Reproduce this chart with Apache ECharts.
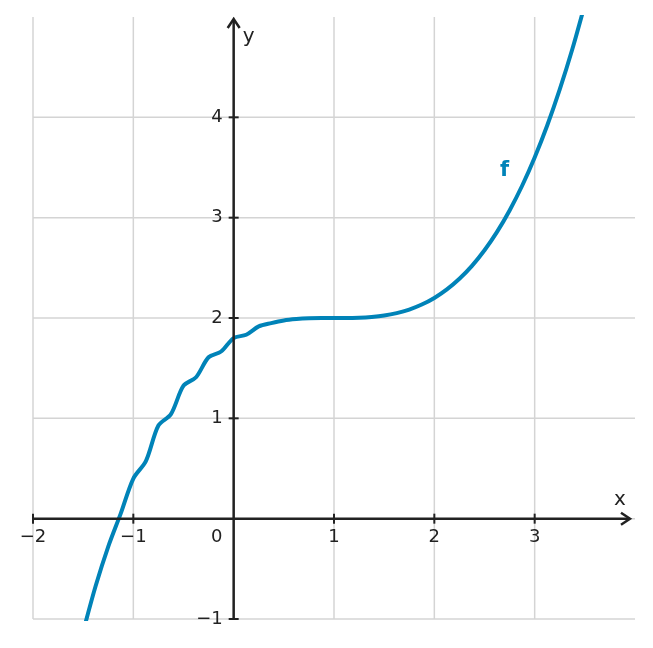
<!DOCTYPE html>
<html><head><meta charset="utf-8">
<script src="https://cdn.jsdelivr.net/npm/echarts@6/dist/echarts.min.js"></script>
<style>html,body{margin:0;padding:0;background:#fff}#c{width:653px;height:648px}</style>
</head><body><div id="c"></div>
<script>
const xs = [-1.5,-1.375,-1.25,-1.125,-1,-0.875,-0.75,-0.625,-0.5,-0.375,-0.25,-0.125,0,0.125,0.25,0.375,0.5,0.625,0.75,0.875,1,1.125,1.25,1.375,1.5,1.625,1.75,1.875,2,2.125,2.25,2.375,2.5,2.625,2.75,2.875,3,3.125,3.25,3.375,3.5];
const ys = [-1.125,-0.669,-0.278,0.053,0.4,0.573,0.928,1.042,1.325,1.41,1.609,1.666,1.8,1.833,1.916,1.949,1.975,1.989,1.997,2.0,2,2.0,2.003,2.011,2.025,2.049,2.084,2.134,2.2,2.285,2.391,2.52,2.675,2.858,3.072,3.318,3.6,3.918,4.278,4.678,5.125];
const xTicks = [-2,-1,1,2,3];
const yTicks = [-1,1,2,3,4];
const xGrid = [-2,-1,0,1,2,3];
const yGrid = [-1,0,1,2,3,4];
const fmt = v => (v<0?'\u2212'+Math.abs(v):String(v));
const chart = echarts.init(document.getElementById('c'));
const axisCol = '#222', gridCol = '#d4d4d4', font = '18px DejaVu Sans';
chart.setOption({
  animation:false,
  grid:{left:33,right:18,top:17,bottom:29,containLabel:false,outerBoundsMode:'none'},
  xAxis:{type:'value',min:-2,max:4,interval:1,show:false},
  yAxis:{type:'value',min:-1,max:5,interval:1,show:false},
  series:[{type:'line',data:xs.map((x,i)=>[x,ys[i]]),smooth:0.3,showSymbol:false,clip:true,z:5,
    lineStyle:{color:'#0083b8',width:4}}]
});
const P = (x,y)=>chart.convertToPixel({gridIndex:0},[x,y]);
const g = [];
const line = (a,b,c,w,z)=>g.push({type:'line',z:z,shape:{x1:a[0],y1:a[1],x2:b[0],y2:b[1]},style:{stroke:c,lineWidth:w}});
xGrid.forEach(v=>line(P(v,-1),P(v,5),gridCol,1.5,1));
yGrid.forEach(v=>line(P(-2,v),P(4,v),gridCol,1.5,1));
const o = P(0,0);
// axes
const xe = P(3.95,0), ye = P(0,4.98);
line(P(-2,0),xe,axisCol,2.5,10);
line(P(0,-1),ye,axisCol,2.5,10);
g.push({type:'polyline',z:10,shape:{points:[[xe[0]-9,xe[1]-6],[xe[0],xe[1]],[xe[0]-9,xe[1]+6]]},style:{stroke:axisCol,lineWidth:2.5,fill:null}});
g.push({type:'polyline',z:10,shape:{points:[[ye[0]-6,ye[1]+9],[ye[0],ye[1]],[ye[0]+6,ye[1]+9]]},style:{stroke:axisCol,lineWidth:2.5,fill:null}});
xTicks.forEach(v=>{const p=P(v,0);line([p[0],p[1]-5],[p[0],p[1]+5],axisCol,2,10);
  g.push({type:'text',z:10,x:p[0],y:p[1]+19,style:{text:fmt(v),fill:axisCol,font:font,align:'center',verticalAlign:'middle'}});});
yTicks.forEach(v=>{const p=P(0,v);line([p[0]-5,p[1]],[p[0]+5,p[1]],axisCol,2,10);
  g.push({type:'text',z:10,x:p[0]-11,y:p[1],style:{text:fmt(v),fill:axisCol,font:font,align:'right',verticalAlign:'middle'}});});
g.push({type:'text',z:10,x:o[0]-17,y:o[1]+19,style:{text:'0',fill:axisCol,font:font,align:'center',verticalAlign:'middle'}});
g.push({type:'text',z:10,x:xe[0]-10,y:xe[1]-19,style:{text:'x',fill:axisCol,font:'20px DejaVu Sans',align:'center',verticalAlign:'middle'}});
g.push({type:'text',z:10,x:ye[0]+15,y:ye[1]+18,style:{text:'y',fill:axisCol,font:'20px DejaVu Sans',align:'center',verticalAlign:'middle'}});
const fp = P(2.7,3.47);
g.push({type:'text',z:10,x:fp[0],y:fp[1],style:{text:'f',fill:'#0083b8',font:'bold 21px DejaVu Sans',align:'center',verticalAlign:'middle'}});
chart.setOption({graphic:g});
</script></body></html>
